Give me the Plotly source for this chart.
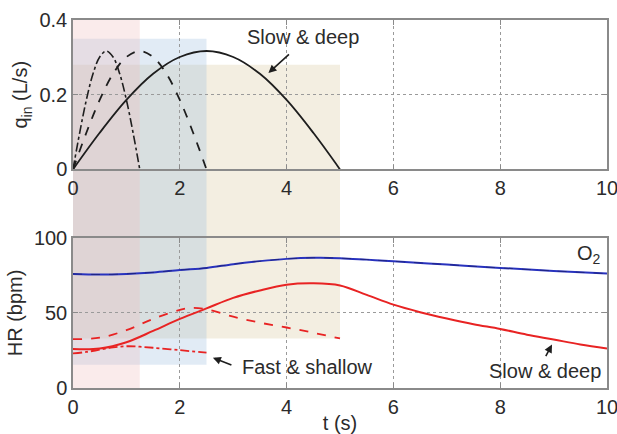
import plotly.graph_objects as go

# ---- inflow pulses (L/s) for three breathing patterns ----
t_fast = [0, 0.125, 0.25, 0.375, 0.5, 0.625, 0.75, 0.875, 1.0, 1.125, 1.25]
t_mid = [0, 0.25, 0.5, 0.75, 1.0, 1.25, 1.5, 1.75, 2.0, 2.25, 2.5]
t_slow = [0, 0.5, 1.0, 1.5, 2.0, 2.5, 3.0, 3.5, 4.0, 4.5, 5.0]
q_fast = [0, 0.098, 0.186, 0.256, 0.301, 0.317, 0.301, 0.256, 0.186, 0.098, 0]
q_mid = [0, 0.098, 0.186, 0.256, 0.301, 0.317, 0.301, 0.256, 0.186, 0.098, 0]
q_slow = [0, 0.098, 0.186, 0.256, 0.301, 0.317, 0.301, 0.256, 0.186, 0.098, 0]

# ---- heart-rate responses (bpm) ----
t_o2 = [0, 0.5, 1, 1.5, 2, 2.5, 3, 3.5, 4, 4.5, 5, 5.5, 6, 7, 8, 9, 10]
hr_o2 = [76, 75.6, 76, 77, 78.6, 80, 82.5, 84.5, 86, 86.7, 86.5, 85.5, 84.4, 82.2, 80, 78, 76.2]

t_hr_slow = [0, 0.5, 1, 1.5, 2, 2.5, 3, 3.5, 4, 4.5, 5, 5.5, 6, 6.5, 7, 7.5, 8, 8.5, 9, 9.5, 10]
hr_slow = [26, 26.3, 30.5, 38, 46, 53, 60, 65, 68.8, 69.7, 68.3, 62, 55.5, 50.5, 46.3, 42.5,
           39.3, 35.5, 32.3, 29, 26.3]

t_hr_mid = [0, 0.5, 1, 1.5, 2, 2.2, 2.5, 3, 3.5, 4, 4.5, 5]
hr_mid = [32.5, 33.5, 38.5, 46, 52, 53.3, 52.5, 47.5, 43.5, 40.3, 36.8, 33]

t_hr_fast = [0, 0.25, 0.5, 0.75, 1, 1.25, 1.5, 2, 2.5]
hr_fast = [23, 24, 25.5, 27, 27.8, 27.5, 26.8, 25.2, 23.5]

# shaded breath windows, drawn back to front: (t_end, q_top, hr_bottom, colour)
windows = [
    (5.0, 0.28, 33, "rgba(215,198,155,0.30)"),
    (2.5, 0.35, 15.5, "rgba(155,188,222,0.30)"),
    (1.25, 0.40, 0, "rgba(238,188,188,0.30)"),
]

TOP_DOM = [0.594, 1.0]
BOT_DOM = [0.0, 0.408]
Q_RANGE = [0, 0.4]
HR_RANGE = [0, 100]

FONT = "Liberation Sans, Arial, sans-serif"
TXT = "#2b2b2b"
AX = "#8a8a8a"
BLACK = "#1e1e1e"
RED = "rgb(232,35,35)"
BLUE = "rgb(40,50,190)"


def top_paper(q):
    return TOP_DOM[0] + (q - Q_RANGE[0]) / (Q_RANGE[1] - Q_RANGE[0]) * (TOP_DOM[1] - TOP_DOM[0])


def bot_paper(h):
    return BOT_DOM[0] + (h - HR_RANGE[0]) / (HR_RANGE[1] - HR_RANGE[0]) * (BOT_DOM[1] - BOT_DOM[0])


fig = go.Figure()

# inflow curves
fig.add_trace(go.Scatter(x=t_fast, y=q_fast, mode="lines", xaxis="x", yaxis="y",
                         line=dict(color=BLACK, width=1.6, dash="dashdot", shape="spline")))
fig.add_trace(go.Scatter(x=t_mid, y=q_mid, mode="lines", xaxis="x", yaxis="y",
                         line=dict(color=BLACK, width=1.8, dash="dash", shape="spline")))
fig.add_trace(go.Scatter(x=t_slow, y=q_slow, mode="lines", xaxis="x", yaxis="y",
                         line=dict(color=BLACK, width=1.8, shape="spline")))

# heart-rate curves
fig.add_trace(go.Scatter(x=t_o2, y=hr_o2, mode="lines", xaxis="x2", yaxis="y2",
                         line=dict(color=BLUE, width=2, shape="spline")))
fig.add_trace(go.Scatter(x=t_o2, y=hr_o2, mode="lines", xaxis="x2", yaxis="y2",
                         line=dict(color="rgba(20,20,60,0.45)", width=1, dash="dash", shape="spline")))
fig.add_trace(go.Scatter(x=t_hr_fast, y=hr_fast, mode="lines", xaxis="x2", yaxis="y2",
                         line=dict(color=RED, width=1.8, dash="dashdot", shape="spline")))
fig.add_trace(go.Scatter(x=t_hr_mid, y=hr_mid, mode="lines", xaxis="x2", yaxis="y2",
                         line=dict(color=RED, width=1.8, dash="dash", shape="spline")))
fig.add_trace(go.Scatter(x=t_hr_slow, y=hr_slow, mode="lines", xaxis="x2", yaxis="y2",
                         line=dict(color=RED, width=2, shape="spline")))

shapes = []
for t_end, q_top, hr_bot, col in windows:
    shapes.append(dict(type="rect", xref="x", yref="paper", x0=0, x1=t_end,
                       y0=bot_paper(hr_bot), y1=top_paper(q_top),
                       fillcolor=col, line=dict(width=0), layer="below"))

axis_common = dict(
    range=[0, 10], showline=True, linecolor=AX, linewidth=1.5, mirror="ticks",
    ticks="inside", ticklen=5, tickcolor=AX, showgrid=True, gridcolor="#9a9a9a",
    griddash="dot", gridwidth=1, zeroline=False, tickmode="array", automargin=False,
    ticklabeloverflow="allow",
    tickvals=[0, 2, 4, 6, 8, 10], ticktext=["0", "2", "4", "6", "8", "10"],
    tickfont=dict(size=20, color=TXT, family=FONT),
)

yaxis_common = dict(
    showline=True, linecolor=AX, linewidth=1.5, mirror="ticks", ticks="inside",
    ticklen=5, tickcolor=AX, showgrid=True, gridcolor="#9a9a9a", griddash="dot",
    zeroline=False, automargin=False, ticklabeloverflow="allow",
    tickfont=dict(size=20, color=TXT),
)

fig.update_layout(
    width=617, height=434,
    margin=dict(l=73, r=10, t=20, b=46),
    paper_bgcolor="white", plot_bgcolor="rgba(0,0,0,0)",
    showlegend=False,
    font=dict(family=FONT, color=TXT, size=20),
    xaxis=dict(axis_common, anchor="y", domain=[0, 1]),
    xaxis2=dict(axis_common, anchor="y2", domain=[0, 1],
                title=dict(text="t (s)", font=dict(size=20, color=TXT), standoff=2)),
    yaxis=dict(yaxis_common, domain=TOP_DOM, range=Q_RANGE,
               tickvals=[0, 0.2, 0.4], ticktext=["0", "0.2", "0.4"],
               title=dict(text="q<sub>in</sub> (L/s)", font=dict(size=20, color=TXT), standoff=6)),
    yaxis2=dict(yaxis_common, domain=BOT_DOM, range=HR_RANGE, anchor="x2",
                tickvals=[0, 50, 100], ticktext=["0", "50", "100"],
                title=dict(text="HR (bpm)", font=dict(size=20, color=TXT), standoff=6)),
    shapes=shapes,
)

arrow = dict(showarrow=True, arrowhead=2, arrowsize=1, arrowwidth=1.6, arrowcolor=BLACK,
             axref="pixel", ayref="pixel", standoff=0, startstandoff=0)
annotations = [
    dict(x=4.31, y=0.354, xref="x", yref="y", text="Slow & deep", showarrow=False,
         font=dict(size=20, color=TXT)),
    dict(arrow, x=3.66, y=0.258, xref="x", yref="y", ax=22, ay=-20, text=""),
    dict(x=4.39, y=14.2, xref="x2", yref="y2", text="Fast & shallow", showarrow=False,
         font=dict(size=20, color=TXT)),
    dict(arrow, x=2.62, y=20.2, xref="x2", yref="y2", ax=20, ay=8, text=""),
    dict(x=8.83, y=11, xref="x2", yref="y2", text="Slow & deep", showarrow=False,
         font=dict(size=20, color=TXT)),
    dict(arrow, x=8.97, y=28.9, xref="x2", yref="y2", ax=-7, ay=13, text=""),
    dict(x=9.92, y=88.9, xref="x2", yref="y2", text="O<sub>2</sub>", showarrow=False,
         xanchor="right", font=dict(size=20, color=TXT)),
]
fig.update_layout(annotations=annotations)

fig.write_html("out.html")
